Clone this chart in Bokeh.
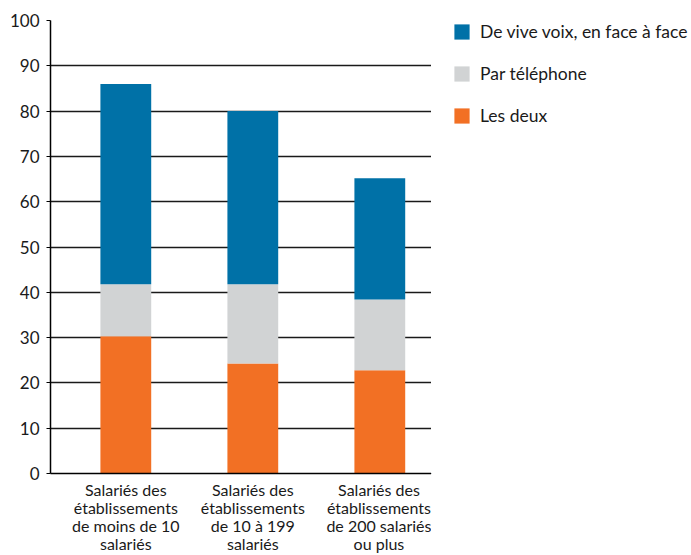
from bokeh.plotting import figure
from bokeh.layouts import row
from bokeh.models import Range1d, FixedTicker, Legend, LegendItem, ColumnDataSource
from bokeh.embed import file_html
from bokeh.resources import INLINE

categories = [
    "Salariés des\nétablissements\nde moins de 10\nsalariés",
    "Salariés des\nétablissements\nde 10 à 199\nsalariés",
    "Salariés des\nétablissements\nde 200 salariés\nou plus",
]
les_deux = [30.3, 24.3, 22.8]
par_telephone = [11.5, 17.5, 15.6]
face_a_face = [44.2, 38.2, 26.8]
series_names = ["De vive voix, en face à face", "Par téléphone", "Les deux"]
y_ticks = [0, 10, 20, 30, 40, 50, 60, 70, 80, 90, 100]

colors = {"blue": "#0071A7", "gray": "#D1D3D4", "orange": "#F27024"}
FONT = "Lato"
FS = "17px"

idx = list(range(len(categories)))
b1 = les_deux
b2 = [a + b for a, b in zip(les_deux, par_telephone)]
b3 = [a + b for a, b in zip(b2, face_a_face)]

src = ColumnDataSource(dict(x=idx, z=[0] * 3, b1=b1, b2=b2, b3=b3))

p = figure(frame_width=381, frame_height=453, output_backend="svg", toolbar_location=None,
           x_range=Range1d(-0.593, 2.407), y_range=Range1d(0, 100),
           min_border_left=50, min_border_top=20, min_border_bottom=0,
           min_border_right=0)
p.outline_line_color = None
p.background_fill_color = "white"

w = 0.40
p.vbar(x="x", bottom="z", top="b1", width=w, source=src,
       fill_color=colors["orange"], line_color=None)
p.vbar(x="x", bottom="b1", top="b2", width=w, source=src,
       fill_color=colors["gray"], line_color=None)
p.vbar(x="x", bottom="b2", top="b3", width=w, source=src,
       fill_color=colors["blue"], line_color=None)

# axes
p.xaxis.ticker = FixedTicker(ticks=idx)
p.xaxis.major_label_overrides = {i: c for i, c in zip(idx, categories)}
p.xaxis.major_tick_line_color = None
p.xaxis.minor_tick_line_color = None
p.xaxis.axis_line_color = "black"
p.xaxis.axis_line_width = 1.5
p.xaxis.major_label_text_font = FONT
p.xaxis.major_label_text_font_size = "16px"
p.xaxis.major_label_text_color = "#1a1a1a"
p.xaxis.major_label_text_line_height = 0.95
p.xaxis.major_label_standoff = 0

p.yaxis.ticker = FixedTicker(ticks=y_ticks)
p.yaxis.minor_tick_line_color = None
p.yaxis.major_tick_out = 4
p.yaxis.major_tick_in = 0
p.yaxis.major_tick_line_color = "black"
p.yaxis.axis_line_color = "black"
p.yaxis.axis_line_width = 1.5
p.yaxis.major_label_text_font = FONT
p.yaxis.major_label_text_font_size = FS
p.yaxis.major_label_text_color = "#1a1a1a"
p.yaxis.major_label_standoff = 7

p.xgrid.grid_line_color = None
p.ygrid.ticker = FixedTicker(ticks=y_ticks)
p.ygrid.grid_line_color = "#1a1a1a"
p.ygrid.grid_line_width = 1.5

# legend panel: same bars, drawn in a side figure whose ranges hide them
q = figure(width=260, height=555, output_backend="svg", toolbar_location=None,
           x_range=Range1d(1000, 1001), y_range=Range1d(1000, 1001),
           min_border_left=0, min_border_right=0, min_border_top=0, min_border_bottom=0)
q.axis.visible = False
q.grid.visible = False
q.outline_line_color = None
lr_orange = q.vbar(x="x", bottom="z", top="b1", width=w, source=src,
                   fill_color=colors["orange"], line_color=None)
lr_gray = q.vbar(x="x", bottom="b1", top="b2", width=w, source=src,
                 fill_color=colors["gray"], line_color=None)
lr_blue = q.vbar(x="x", bottom="b2", top="b3", width=w, source=src,
                 fill_color=colors["blue"], line_color=None)

legend = Legend(items=[
    LegendItem(label=series_names[0], renderers=[lr_blue]),
    LegendItem(label=series_names[1], renderers=[lr_gray]),
    LegendItem(label=series_names[2], renderers=[lr_orange]),
], location=(21, 347))
legend.border_line_color = None
legend.background_fill_alpha = 0
legend.glyph_width = 19
legend.glyph_height = 19
legend.spacing = 21
legend.label_standoff = 9
legend.padding = 0
legend.margin = 0
legend.label_text_font = FONT
legend.label_text_font_size = "17.5px"
legend.label_text_color = "#1a1a1a"
legend.label_height = 21
q.add_layout(legend, "center")

layout = row(p, q)
open("out.html", "w").write(file_html(layout, INLINE))
